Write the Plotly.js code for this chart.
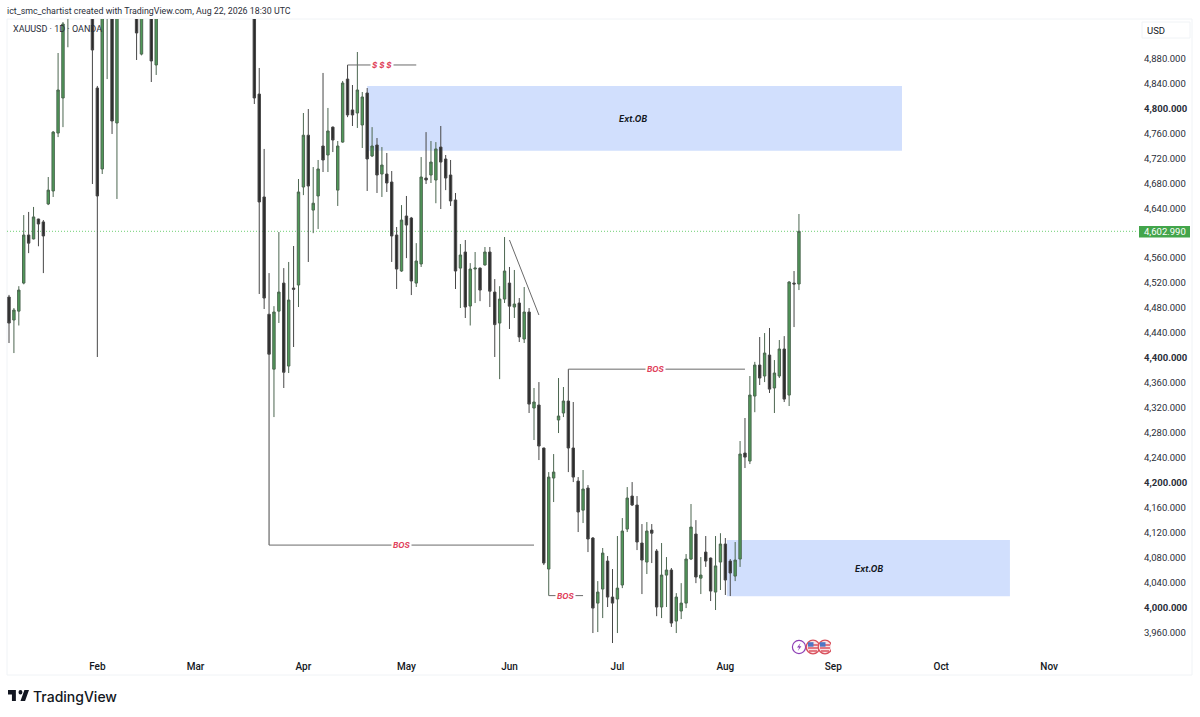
<!DOCTYPE html>
<html>
<head>
<meta charset="utf-8">
<script src="https://cdn.plot.ly/plotly-3.0.1.min.js"></script>
<style>
  html, body { margin: 0; padding: 0; background: #fff; }
</style>
</head>
<body>
<div id="chart" style="width:1200px;height:717px"></div>
<script>
// daily XAUUSD bars, bars that sit above the visible range are null
let open = [
    4497.6,4460.8,4475,4520,4597,4590.7,4622.7,4618,4646.8,4667.6,
    4760.5,4816.7,4950,null,null,null,null,5050,4832.7,4702.9,
    4960,4990,4776.6,null,null,null,4990,4887,null,4990,
    4869.6,null,null,null,null,null,null,null,null,null,
    null,null,null,null,null,null,null,null,null,null,
    5000,4823,4658,4470,4382,4475,4520,4387,4512,4516.9,
    4674,4757,4637,4659.6,4739.7,4725.3,4770,4669,4746,4847,
    4797.5,4792.6,4773.4,4824.7,4723.7,4741.3,4694.8,4694.8,4682,4597,
    4539.3,4627.5,4624.3,4520,4550.6,4688.4,4693.2,4685.2,4738,4718.9,
    4693.2,4653.2,4544,4569.8,4483.2,4542.5,4544,4549,4569.8,4505.6,
    4455.9,4494.4,4520,4481.6,4488,4430.3,4473.6,4319.7,4324.5,4255.6,
    4061.6,4207.5,4300.5,4311.7,4330.9,4255.6,4202.6,4156,4191.4,4111.3,
    4007,4029.5,4074.4,4016.7,4013.5,4036,4125.7,4178.6,4164.2,4103.3,
    4072.8,4124,4090.4,4000.7,4051.9,4060,3978.2,3994.3,4007,4077.6,
    4117.7,4047,4088.8,4079.2,4024.7,4072.8,4101.7,4074.4,4050.3,4077.6,
    4247.5,4234.7,4338.9,4388.6,4371,4404.6,4351.8,4371,4414.3,4340.5,
    4520,4518.5
];
let high = [
    4501,4480,4515,4629,4634,4642,4623,4621,4690,4763.8,
    4888.8,4938.5,5030,null,null,null,null,5060,4836,5000,
    5010,5010,5010,null,null,null,5000,5000,null,5000,
    5000,null,null,null,null,null,null,null,null,null,
    null,null,null,null,null,null,null,null,null,null,
    5010,4864.8,4735,4536,4483,4601.8,4544,4553.8,4579.4,4686.8,
    4792.6,4799,4706,4717.3,4856.8,4800.7,4771,4747.7,4844,4869.6,
    4837.5,4890.4,4826.3,4832.7,4770,4752.5,4738,4728.5,4699.6,4609.9,
    4645,4659.6,4626,4584,4722,4762,4747.7,4746,4771.8,4725.3,
    4717.3,4664.4,4582.6,4589,4552,4569.8,4545,4577.8,4577.8,4526.4,
    4515,4593.8,4545.8,4541,4496,4513.7,4480,4351.8,4361.3,4256,
    4217,4245.9,4367.8,4353.4,4382,4329.3,4209,4220.3,4196.2,4112.9,
    4042.3,4095.3,4082.4,4061.6,4114.5,4143.3,4193,4201,4178.6,4133.7,
    4136.9,4133.7,4093.6,4103.3,4080.8,4063.2,4023,4039,4085.6,4165.8,
    4140,4080.8,4114.5,4080,4114.5,4119,4111.3,4077.6,4104.9,4266.8,
    4303.7,4371,4393.7,4433.5,4439.9,4448,4396.6,4428.7,4435,4523,
    4539.3,4630.7
];
let low = [
    4423.9,4407.8,4452,4518,4568,4590,4579,4536,4645,4658,
    4754,4770,4898,null,null,null,null,4678.8,4401.5,4694.8,
    4847,4759,4654.8,null,null,null,4877.6,4885,null,4842.3,
    4853.6,null,null,null,null,null,null,null,null,null,
    null,null,null,null,null,null,null,null,null,null,
    4807,4502.5,4478.4,4100,4305.2,4456,4351.8,4375.8,4417.5,4481.6,
    4661,4553.8,4600,4606.7,4698,4698,4730,4643.6,4745,4786,
    4771.8,4768.6,4736.5,4667.6,4722,4664.4,4658,4666,4553.8,4510.5,
    4538,4560,4500.8,4513.7,4545.8,4678.8,4680.4,4648,4638.7,4669,
    4643.6,4510.5,4480,4464,4452,4488,4491,4548,4481.6,4401.5,
    4366,4488,4446.4,4464,4425.5,4423.9,4311.7,4268.4,4236.3,4068,
    4019,4169,4279.6,4305.2,4217,4201,4120.9,4135.3,4088.8,3959,
    3960.6,3983,4000.7,3943,3959,4031,4120.9,4162.6,4092,4021.5,
    4053.6,4071.2,3986,3983,4000.7,3968.8,3959,3981.4,3999,4076,
    4039,4021.5,4065,4010.3,3995.9,4028,4020,4018.3,4042.3,4065,
    4223.5,4229.9,4313,4356.6,4361.3,4343.8,4311.7,4367.8,4329.3,4322.9,
    4449.5,4508.8
];
let close = [
    4455.9,4476.8,4508.8,4597,4584,4626,4614.7,4595.5,4669,4762,
    4829.5,4935.3,5010,null,null,null,null,4893.6,4659.6,4990,
    4990,4779.8,5000,null,null,null,4920.9,4990,null,4876,
    4990,null,null,null,null,null,null,null,null,null,
    null,null,null,null,null,null,null,null,null,null,
    4816.7,4650,4496,4406,4473.6,4505.6,4377,4492.8,4510,4666,
    4757,4675.6,4648,4702.9,4717.3,4763.8,4749.3,4739.7,4840.7,4789.5,
    4789.5,4829.5,4818.3,4718.9,4739.7,4693.2,4709.2,4680.4,4595.5,4542.5,
    4621,4613,4523.3,4555.4,4690,4685.2,4714,4735,4714,4688.4,
    4651.6,4539.3,4565,4481.6,4542.5,4544,4508.8,4569.8,4507,4453.4,
    4494.4,4539.3,4483,4486.4,4433.5,4473.6,4326,4329.3,4258.8,4071.2,
    4209,4217,4306.9,4330.9,4255.6,4209,4153,4189.8,4109.7,3999,
    4024.7,4087.2,4016.7,4007,4031,4122.5,4175.4,4164.2,4104.9,4076,
    4122.5,4119,4000.7,4051.9,4060,3975,4016.7,4007,4077.6,4128.9,
    4048.8,4051.9,4074.4,4026.3,4066.6,4101.7,4044,4055.2,4076,4245.9,
    4241,4340.5,4388.6,4367.8,4407.8,4350,4375.8,4414.3,4334,4521.7,
    4518.5,4602.99
];
let barIndex = open.map((v, i) => i); // trading days, no weekend gaps

// axis labels
let monthBars = [18, 38, 60, 81, 102, 124, 146, 168, 190, 212];
let monthNames = ["Feb", "Mar", "Apr", "May", "Jun", "Jul", "Aug", "Sep", "Oct", "Nov"];
let priceTicks = [3960, 4000, 4040, 4080, 4120, 4160, 4200, 4240, 4280, 4320, 4360, 4400, 4440,
    4480, 4520, 4560, 4640, 4680, 4720, 4760, 4800, 4840, 4880];
let boldTicks = [4000, 4200, 4400, 4800];
let lastPrice = 4602.99;

// drawings, in bar index and price
let obTop = { x0: 73, x1: 182, y0: 4732, y1: 4836, labelX: 127.2, labelY: 4783 };
let obBottom = { x0: 146.3, x1: 204, y0: 4018, y1: 4108, labelX: 175.3, labelY: 4061.5 };
let bosLines = [
    { x0: 53, x1: 107, y: 4100, labelX: 80 },
    { x0: 114, x1: 150, y: 4382, labelX: 131.8 },
    { x0: 110, x1: 117, y: 4019, labelX: 113.5 }
];
let sssLine = { x0: 69, x1: 83, y: 4869.6, labelX: 76 };
let trendLine = { x0: 102, x1: 108, y0: 4589, y1: 4468.8 };

// plot box in page pixels
const W = 1200, H = 717;
const L = 7, R = 1137, T = 19, B = 655;
let pxX = x => (x - L) / (R - L);
let pxY = y => (B - y) / (B - T);

let formatPrice = p => p.toLocaleString("en-US", { minimumFractionDigits: 3, maximumFractionDigits: 3 });
let priceText = priceTicks.map(p => boldTicks.includes(p) ? "<b>" + formatPrice(p) + "</b>" : formatPrice(p));

let candles = {
    type: "candlestick",
    x: barIndex,
    open: open,
    high: high,
    low: low,
    close: close,
    width: 0.74,
    whiskerwidth: 0,
    increasing: { line: { color: "#4c6650", width: 1 }, fillcolor: "#4f9a58" },
    decreasing: { line: { color: "#474747", width: 1 }, fillcolor: "#2b2b2b" },
    hoverinfo: "skip",
    showlegend: false
};

// dark line segments
let lineStyle = { color: "#6a6a6a", width: 1 };
let shapes = [
    // outer frame of the chart
    { type: "rect", xref: "paper", yref: "paper", x0: pxX(7), x1: pxX(1192), y0: pxY(675), y1: pxY(19), line: { color: "#f0f3f6", width: 1 }, layer: "below" },
    { type: "rect", xref: "x", yref: "y", x0: obTop.x0, x1: obTop.x1, y0: obTop.y0, y1: obTop.y1, fillcolor: "#d1dffd", line: { width: 0 }, layer: "below" },
    { type: "rect", xref: "x", yref: "y", x0: obBottom.x0, x1: obBottom.x1, y0: obBottom.y0, y1: obBottom.y1, fillcolor: "#d1dffd", line: { width: 0 }, layer: "below" },
    { type: "line", xref: "x", yref: "y", x0: trendLine.x0, x1: trendLine.x1, y0: trendLine.y0, y1: trendLine.y1, line: lineStyle },
    { type: "line", xref: "x", yref: "y", x0: sssLine.x0, x1: sssLine.x1, y0: sssLine.y, y1: sssLine.y, line: lineStyle },
    // last price line
    { type: "line", xref: "paper", yref: "y", x0: 0, x1: 1, y0: lastPrice, y1: lastPrice, line: { color: "#6fcf73", width: 1, dash: "1px,2px" }, layer: "below" },
    // USD box
    { type: "rect", xref: "paper", yref: "paper", x0: pxX(1142), x1: pxX(1190), y0: pxY(38), y1: pxY(22), line: { color: "#f0f3f6", width: 1 } },
    // last price tag
    { type: "rect", xref: "paper", yref: "paper", x0: pxX(1139), x1: pxX(1190), y0: pxY(237.5), y1: pxY(226), fillcolor: "#43a54b", line: { width: 0 } }
];
bosLines.forEach(b => {
    shapes.push({ type: "line", xref: "x", yref: "y", x0: b.x0, x1: b.x1, y0: b.y, y1: b.y, line: lineStyle });
});

let labelFont = { family: "Inter, sans-serif", size: 8, color: "#e0405a", weight: 700, style: "italic" };
let obFont = { family: "Inter, sans-serif", size: 8.5, color: "#131722", weight: 700, style: "italic" };
let annotations = [
    { x: obTop.labelX, y: obTop.labelY, text: "Ext.OB", showarrow: false, font: obFont },
    { x: obBottom.labelX, y: obBottom.labelY, text: "Ext.OB", showarrow: false, font: obFont },
    { x: sssLine.labelX, y: sssLine.y, text: "$ $ $", showarrow: false, font: labelFont, bgcolor: "#fff", borderpad: 1 },
    // text outside the plot box
    { xref: "paper", yref: "paper", x: pxX(11), y: pxY(29), xanchor: "left", yanchor: "middle", showarrow: false, text: "XAUUSD · 1D · OANDA",
        font: { family: "Roboto, sans-serif", size: 9, color: "#2a2e39" } },
    { xref: "paper", yref: "paper", x: pxX(1145), y: pxY(30), xanchor: "left", yanchor: "middle", showarrow: false, text: "USD",
        font: { family: "Roboto, sans-serif", size: 9.5, color: "#131722" } },
    { xref: "paper", yref: "paper", x: pxX(1164.5), y: pxY(231.7), xanchor: "center", yanchor: "middle", showarrow: false, text: formatPrice(lastPrice),
        font: { family: "Roboto, sans-serif", size: 9.5, color: "#ffffff" } },
    { xref: "paper", yref: "paper", x: pxX(31), y: pxY(696), xanchor: "left", yanchor: "middle", showarrow: false, text: "TradingView",
        font: { family: "Inter, sans-serif", size: 14, color: "#131722", weight: 500 } }
];
bosLines.forEach(b => {
    annotations.push({ x: b.labelX, y: b.y, text: "BOS", showarrow: false, font: labelFont, bgcolor: "#fff", borderpad: 1 });
});

// logo and calendar event icons
let logoSvg = "<svg xmlns='http://www.w3.org/2000/svg' viewBox='2 6 32 15' preserveAspectRatio='none'>" +
    "<path fill='#131722' d='M14 6H2v6h6v9h6V6Zm14 15h-7l6-15h7l-6 15Zm-7-9a3 3 0 1 0 0-6 3 3 0 0 0 0 6Z'/></svg>";
let flag = cx => "<circle cx='" + cx + "' cy='8' r='6.8' fill='#fbe3e5' stroke='#d8505c' stroke-width='1.3'/>" +
    "<path d='M" + (cx - 5) + " 6h10M" + (cx - 5) + " 9h10M" + (cx - 4) + " 12h8' stroke='#dd5561' stroke-width='1.5'/>" +
    "<rect x='" + (cx - 5) + "' y='3.2' width='5.5' height='4.5' fill='#4f76c4'/>";
let eventSvg = "<svg xmlns='http://www.w3.org/2000/svg' viewBox='0 0 40 16'>" +
    "<circle cx='8' cy='8' r='6.6' fill='#fff' stroke='#8e3fb5' stroke-width='1.2'/>" +
    "<path d='M9.5 4 6 8.6h2.2L6.8 12l3.6-4.8H8.2Z' fill='#8e3fb5'/>" + flag(22) + flag(34) + "</svg>";
let svgUri = s => "data:image/svg+xml;charset=utf-8," + encodeURIComponent(s);

let layout = {
    width: W,
    height: H,
    margin: { l: L, r: W - R, t: T, b: H - B, pad: 0 },
    paper_bgcolor: "#ffffff",
    plot_bgcolor: "#ffffff",
    showlegend: false,
    dragmode: false,
    title: {
        text: "ict_smc_chartist created with TradingView.com, Aug 22, 2026 18:30 UTC",
        x: 7 / W,
        xanchor: "left",
        xref: "container",
        y: 1 - 11 / H,
        yanchor: "middle",
        yref: "container",
        font: { family: "Roboto, sans-serif", size: 8.85, color: "#2a2e39" }
    },
    xaxis: {
        type: "linear",
        range: [-0.41, 229.9],
        rangeslider: { visible: false },
        tickmode: "array",
        tickvals: monthBars,
        ticktext: monthNames,
        showgrid: false,
        zeroline: false,
        showline: false,
        ticks: "",
        ticklabelstandoff: 4,
        tickfont: { family: "Roboto, sans-serif", size: 10, color: "#131722", weight: 500 }
    },
    yaxis: {
        type: "linear",
        side: "right",
        range: [3923.8, 4943.3],
        tickmode: "array",
        tickvals: priceTicks,
        ticktext: priceText,
        showgrid: false,
        zeroline: false,
        showline: false,
        ticks: "",
        ticklabelstandoff: 6,
        tickfont: { family: "Roboto, sans-serif", size: 9.5, color: "#2a2e39" }
    },
    shapes: shapes,
    annotations: annotations,
    images: [
        { source: svgUri(logoSvg), xref: "paper", yref: "paper", x: pxX(8), y: pxY(690), sizex: 21 / (R - L), sizey: 11 / (B - T),
            xanchor: "left", yanchor: "top", sizing: "stretch", layer: "above" },
        { source: svgUri(eventSvg), xref: "paper", yref: "paper", x: pxX(791), y: pxY(639), sizex: 40 / (R - L), sizey: 16 / (B - T),
            xanchor: "left", yanchor: "top", sizing: "contain", layer: "above" }
    ]
};

Plotly.newPlot("chart", [candles], layout, { displayModeBar: false, staticPlot: true });
</script>
</body>
</html>
